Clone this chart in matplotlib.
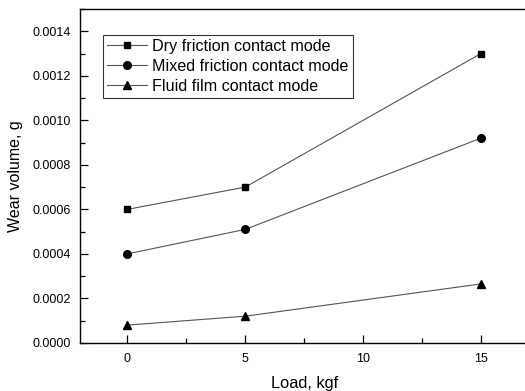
import matplotlib
matplotlib.use("Agg")
import matplotlib.pyplot as plt
from matplotlib.ticker import MultipleLocator, FormatStrFormatter

plt.rcParams['font.family'] = ['Liberation Sans', 'DejaVu Sans']

load = [0, 5, 15]
dry = [0.0006, 0.0007, 0.0013]
mixed = [0.0004, 0.00051, 0.00092]
fluid = [0.00008, 0.00012, 0.000265]
series_labels = ["Dry friction contact mode", "Mixed friction contact mode", "Fluid film contact mode"]

fig = plt.figure(figsize=(5.25, 3.91), dpi=100)
ax = fig.add_axes([0.153, 0.123, 0.853, 0.854])

line_kw = dict(color="#555555", lw=0.8, markerfacecolor="black", markeredgecolor="black")
ax.plot(load, dry, marker="s", ms=5, label=series_labels[0], **line_kw)
ax.plot(load, mixed, marker="o", ms=5.5, label=series_labels[1], **line_kw)
ax.plot(load, fluid, marker="^", ms=6, label=series_labels[2], **line_kw)

ax.set_xlim(-2, 17)
ax.set_ylim(0, 0.0015)
ax.xaxis.set_major_locator(MultipleLocator(5))
ax.xaxis.set_minor_locator(MultipleLocator(2.5))
ax.yaxis.set_major_locator(MultipleLocator(0.0002))
ax.yaxis.set_minor_locator(MultipleLocator(0.0001))
ax.yaxis.set_major_formatter(FormatStrFormatter("%.4f"))
ax.tick_params(which="both", direction="in", labelsize=9, width=0.9)
ax.tick_params(which="major", length=6, pad=7)
ax.tick_params(which="minor", length=3.5)
for sp in ax.spines.values():
    sp.set_linewidth(1.0)

ax.set_xlabel("Load, kgf", fontsize=11.8, labelpad=8)
ax.set_ylabel("Wear volume, g", fontsize=11.5, labelpad=7)

leg = ax.legend(loc="upper left", bbox_to_anchor=(103 / 525, 1 - 35 / 391),
                bbox_transform=fig.transFigure, frameon=True, fancybox=False,
                edgecolor="black", fontsize=11.6, handlelength=2.5,
                handletextpad=0.3, borderpad=0.25, labelspacing=0.3,
                borderaxespad=0)
leg.get_frame().set_linewidth(0.8)

fig.savefig("out.png", dpi=100)
